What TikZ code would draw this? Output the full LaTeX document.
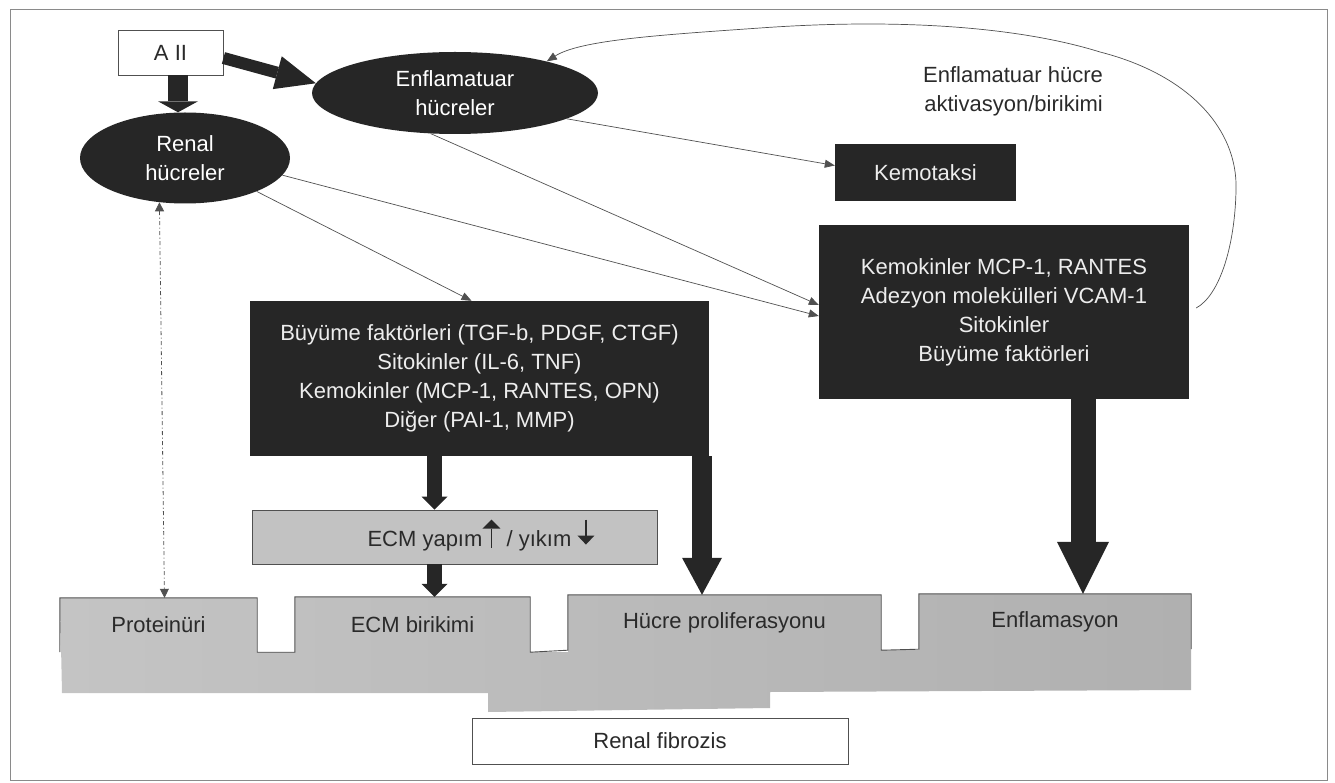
\documentclass[tikz,border=0pt]{standalone}
\usepackage{fontspec}
\setmainfont{Liberation Sans}
\usetikzlibrary{shapes.geometric,arrows.meta,calc}
\definecolor{dark}{HTML}{262626}
\definecolor{linec}{HTML}{505050}
\definecolor{txtdark}{HTML}{2A2A2A}
\definecolor{ecmfill}{HTML}{C2C2C2}
\definecolor{bandL}{HTML}{C4C4C4}
\definecolor{bandM}{HTML}{A2A2A2}
\definecolor{bandR}{HTML}{B0B0B0}
\definecolor{framec}{HTML}{8A8A8A}
\newcommand{\fsz}{\fontsize{22}{29}\selectfont}
\newcommand{\ecmup}{\tikz[x=1pt,y=1pt,baseline=0pt]{\draw[draw=txtdark,line width=1.4pt,-{Triangle[length=9pt,width=18pt,line width=0pt]}] (0,-1)--(0,27);}}
\newcommand{\ecmdown}{\tikz[x=1pt,y=1pt,baseline=0pt]{\draw[draw=txtdark,line width=1.4pt,-{Triangle[length=9pt,width=17pt,line width=0pt]}] (0,27)--(0,2);}}
\begin{document}
\begin{tikzpicture}[x=1pt,y=-1pt,
  darkell/.style={ellipse, fill=dark, text=white, inner sep=0pt, align=center, font=\fsz},
  darkbox/.style={rectangle, fill=dark, text=white!93!black, inner sep=0pt, align=center, font=\fsz},
  whitebox/.style={rectangle, draw=linec, line width=0.9pt, fill=white, text=txtdark, inner sep=0pt, font=\fsz},
  graybox/.style={rectangle, draw=linec, line width=0.9pt, fill=ecmfill, inner sep=0pt},
  tabtext/.style={rectangle, inner sep=0pt, text=txtdark, font=\fsz},
  thinarr/.style={draw=linec, line width=0.7pt, -{Triangle[length=10pt,width=8pt]}},
  dotarr/.style={draw=linec, line width=0.8pt, dash pattern=on 4pt off 2.5pt on 1pt off 2.5pt, {Triangle[length=9pt,width=9pt]}-{Triangle[length=9pt,width=9pt]}},
  fat/.style={draw=dark}
]
\useasboundingbox (0,0) rectangle (1335,783);
\draw[framec, line width=0.8pt] (10,9) rectangle (1327,780);

% band behind the bottom tabs
\path[left color=bandL, middle color=bandM, right color=bandR]
  (60,598)--(257,598)--(257,652)--(295,652)--(295,597)--(530,597)--(530,652)--(568,652)--(568,595)--(881,595)--(881,650)--(919,650)--(919,594)--(1191,594)--(1191,690)--(770,692)--(770,708)--(488,712)--(488,693)--(62,693)--cycle;

% nodes
\node[whitebox, minimum width=105pt, minimum height=45pt] (a2) at (170.5,52.5) {A II};
\node[darkell, minimum width=286pt, minimum height=82pt] (enfl) at (455,93) {Enflamatuar\\hücreler};
\node[darkell, minimum width=210pt, minimum height=91pt] (renal) at (185,158) {Renal\\hücreler};
\node[darkbox, minimum width=181pt, minimum height=57pt] (kemo) at (925.5,172.5) {Kemotaksi};
\node[darkbox, minimum width=370pt, minimum height=174pt] (rbox) at (1004,312) {Kemokinler MCP-1, RANTES\\Adezyon molekülleri VCAM-1\\Sitokinler\\Büyüme faktörleri};
\node[darkbox, minimum width=459pt, minimum height=155pt] (lbox) at (479.5,378.5) {Büyüme faktörleri (TGF-b, PDGF, CTGF)\\Sitokinler (IL-6, TNF)\\Kemokinler (MCP-1, RANTES, OPN)\\Diğer (PAI-1, MMP)};
\node[graybox, minimum width=405pt, minimum height=54pt] (ecm) at (454.5,537) {};
\node[tabtext] (ecmlbl) at (481,535) {ECM yapım\ecmup{} / yıkım \ecmdown};
\node[tabtext, minimum width=197pt, minimum height=54pt] (prot) at (158.5,625) {Proteinüri};
\node[tabtext, minimum width=235pt, minimum height=55pt] (ecmb) at (412.5,624.5) {ECM birikimi};
\node[tabtext, minimum width=313pt, minimum height=55pt] (hucre) at (724.5,622.5) {Hücre proliferasyonu};
\node[tabtext, minimum width=272pt, minimum height=55pt] (enflm) at (1055,621.5) {Enflamasyon};
\node[whitebox, minimum width=376pt, minimum height=46pt] (fib) at (660,741) {Renal fibrozis};
\node[tabtext, align=right] (lab) at (1013,91.5) {Enflamatuar hücre\\aktivasyon/birikimi};

% tab outlines
\draw[linec, line width=0.9pt]
  (prot.south west)--(prot.north west)--(prot.north east)--(prot.south east)--(ecmb.south west)
  --(ecmb.north west)--(ecmb.north east)--(ecmb.south east)--(hucre.south west)
  --(hucre.north west)--(hucre.north east)--(hucre.south east)--(enflm.south west)
  --(enflm.north west)--(enflm.north east)--(enflm.south east);

% thin connectors
\draw[thinarr] (renal.-25) -- ([xshift=-8pt]lbox.north);
\draw[thinarr] (renal.-10) -- ([yshift=-4pt]rbox.west);
\draw[thinarr] (enfl.-121) -- ([yshift=7pt]rbox.west);
\draw[thinarr] (enfl.-13) -- ([yshift=7pt]kemo.west);
\draw[dotarr] (renal.-120) -- ([xshift=6pt]prot.north);
\draw[thinarr] ([xshift=7pt,yshift=4pt]rbox.east)
  .. controls (1220,295) and (1235,245) .. (1236,190)
  .. controls (1238,130) and (1190,75) .. (1100,52)
  .. controls (1020,27) and (900,18) .. (760,28)
  .. controls (660,35) and (580,40) .. (enfl.19);

% thick arrows
\draw[fat, line width=20pt, -{Triangle[length=11pt,width=40pt,line width=0pt]}] ([xshift=7.5pt]a2.south) -- ([xshift=-7pt]renal.north);
\draw[fat, line width=12pt, -{Triangle[length=40pt,width=34pt,line width=0pt]}] ([yshift=-5.5pt]a2.east) -- (enfl.176);
\draw[fat, line width=15pt, -{Triangle[length=13pt,width=26pt,line width=0pt]}] ([xshift=-45pt]lbox.south) -- ([xshift=-20pt]ecm.north);
\draw[fat, line width=15pt, -{Triangle[length=13pt,width=26pt,line width=0pt]}] ([xshift=-20pt]ecm.south) -- ([xshift=22pt]ecmb.north);
\draw[fat, line width=20pt, -{Triangle[length=37pt,width=40pt,line width=0pt]}] ([xshift=222.5pt]lbox.south) -- ([xshift=-22.5pt]hucre.north);
\draw[fat, line width=25pt, -{Triangle[length=52pt,width=52pt,line width=0pt]}] ([xshift=79pt]rbox.south) -- ([xshift=28pt]enflm.north);
\end{tikzpicture}
\end{document}
